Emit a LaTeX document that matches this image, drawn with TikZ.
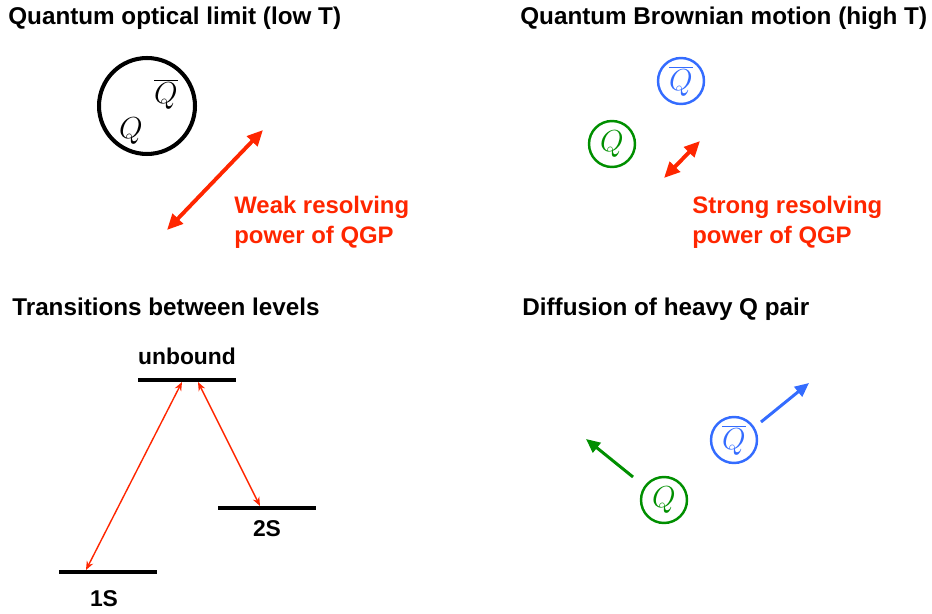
\documentclass[tikz,border=0pt]{standalone}
\usepackage{fontspec}
\setsansfont{Liberation Sans}
\usetikzlibrary{arrows.meta,positioning}

\definecolor{qred}{RGB}{255,38,0}
\definecolor{qgreen}{RGB}{0,143,0}
\definecolor{qblue}{RGB}{52,108,255}

\begin{document}
\begin{tikzpicture}[
    x=0.02cm, y=-0.02cm,
    title/.style={font=\sffamily\bfseries\fontsize{13.8}{16}\selectfont, anchor=west, inner sep=0pt},
    note/.style={font=\sffamily\bfseries\fontsize{13.6}{17}\selectfont, text=qred, align=left, anchor=west, inner sep=0pt},
    lvllabel/.style={font=\sffamily\bfseries\fontsize{13}{15}\selectfont, inner sep=0pt},
    quark/.style={draw, circle, line width=1.4pt, minimum size=0.92cm, inner sep=0pt, font=\fontsize{19}{22}\selectfont},
    power/.style={{Triangle[length=9pt,width=8pt]}-{Triangle[length=9pt,width=8pt]}, line width=2.2pt, draw=qred},
    jump/.style={{Stealth[length=5pt,width=4pt]}-{Stealth[length=5pt,width=4pt]}, line width=0.8pt, draw=qred},
    drift/.style={-{Triangle[length=8pt,width=7pt]}, line width=1.7pt},
    level/.style={line width=2.3pt},
]
\useasboundingbox (0,0) rectangle (932,614);

% Titles
\node[title] (t1) at (8,18) {Quantum optical limit (low T)};
\node[title] (t2) at (520,18) {Quantum Brownian motion (high T)};
\node[title] (t3) at (12,307) {Transitions between levels};
\node[title] (t4) at (522,309) {Diffusion of heavy Q pair};

% Bound pair (low T)
\node[draw, circle, line width=2.3pt, minimum size=1.92cm] (pair) at (147,106) {};
\node[font=\fontsize{19}{22}\selectfont] (qb1) at (166,94) {$\overline{Q}$};
\node[font=\fontsize{19}{22}\selectfont] (q1) at (131,131) {$Q$};
\coordinate (w1) at (167,230);
\coordinate (w2) at (263,130);
\draw[power] (w1) -- (w2);
\node[note] (weak) at (234,222) {Weak resolving\\power of QGP};

% Separated pair (high T)
\node[quark, draw=qgreen, text=qgreen] (q2) at (612,144) {$Q$};
\node[quark, draw=qblue, text=qblue] (qb2) at (681,81) {$\overline{Q}$};
\coordinate (s1) at (664,178);
\coordinate (s2) at (700,141);
\draw[power] (s1) -- (s2);
\node[note] (strong) at (692,222) {Strong resolving\\power of QGP};

% Levels
\coordinate (ul) at (138,380); \coordinate (ur) at (236,380);
\coordinate (2l) at (218,508); \coordinate (2r) at (316,508);
\coordinate (1l) at (59,572);  \coordinate (1r) at (157,572);
\draw[level] (ul) -- (ur);
\draw[level] (2l) -- (2r);
\draw[level] (1l) -- (1r);
\node[lvllabel] (unb) at (187,356) {unbound};
\node[lvllabel] (s2lab) at (267,529) {2S};
\node[lvllabel] (s1lab) at (104,599) {1S};
\coordinate (ua) at (182,382); \coordinate (ub) at (198,382);
\coordinate (1a) at (86,570);  \coordinate (2a) at (260,506);
\draw[jump] (ua) -- (1a);
\draw[jump] (ub) -- (2a);

% Diffusion
\node[quark, draw=qgreen, text=qgreen] (q3) at (664,500) {$Q$};
\node[quark, draw=qblue, text=qblue] (qb3) at (734,440) {$\overline{Q}$};
\coordinate (gq) at (586,439);
\coordinate (bq) at (809,383);
\draw[drift, draw=qgreen, fill=qgreen] (633,477) -- (gq);
\draw[drift, draw=qblue, fill=qblue] (761,422) -- (bq);

\end{tikzpicture}
\end{document}
